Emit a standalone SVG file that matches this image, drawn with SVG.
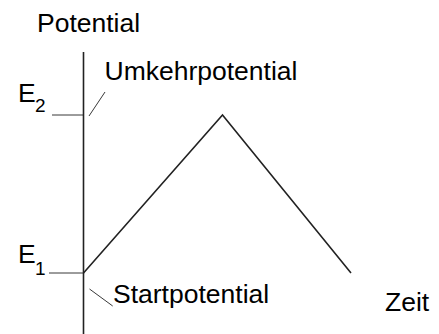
<svg xmlns="http://www.w3.org/2000/svg" width="439" height="334" viewBox="0 0 439 334">
<style>
text{font-family:"Liberation Sans",Arial,sans-serif;fill:#000;font-size:26.5px}
.sub{font-size:19px}
.axis{stroke:#222;stroke-width:1.6;fill:none}
.thin{stroke:#222;stroke-width:0.9;fill:none}
</style>
<rect width="439" height="334" fill="#fff"/>
<g id="connectors">
<line class="axis" x1="83.5" y1="52" x2="83.5" y2="334"/>
<polyline class="axis" points="83.5,273 222.5,115 351,273"/>
<line class="thin" x1="52" y1="115" x2="83" y2="115"/>
<line class="thin" x1="49" y1="273" x2="83" y2="273"/>
<line class="thin" x1="105" y1="92" x2="89" y2="116"/>
<line class="thin" x1="89.5" y1="289" x2="112.7" y2="306"/>
</g>
<g id="label-potential"><text x="37" y="32">Potential</text></g>
<g id="label-umkehr"><text x="104.5" y="80">Umkehrpotential</text></g>
<g id="label-e2"><text x="18" y="102">E</text><text class="sub" x="35" y="112">2</text></g>
<g id="label-e1"><text x="18" y="263">E</text><text class="sub" x="35" y="275">1</text></g>
<g id="label-start"><text x="113" y="303">Startpotential</text></g>
<g id="label-zeit"><text x="385" y="311">Zeit</text></g>
</svg>
